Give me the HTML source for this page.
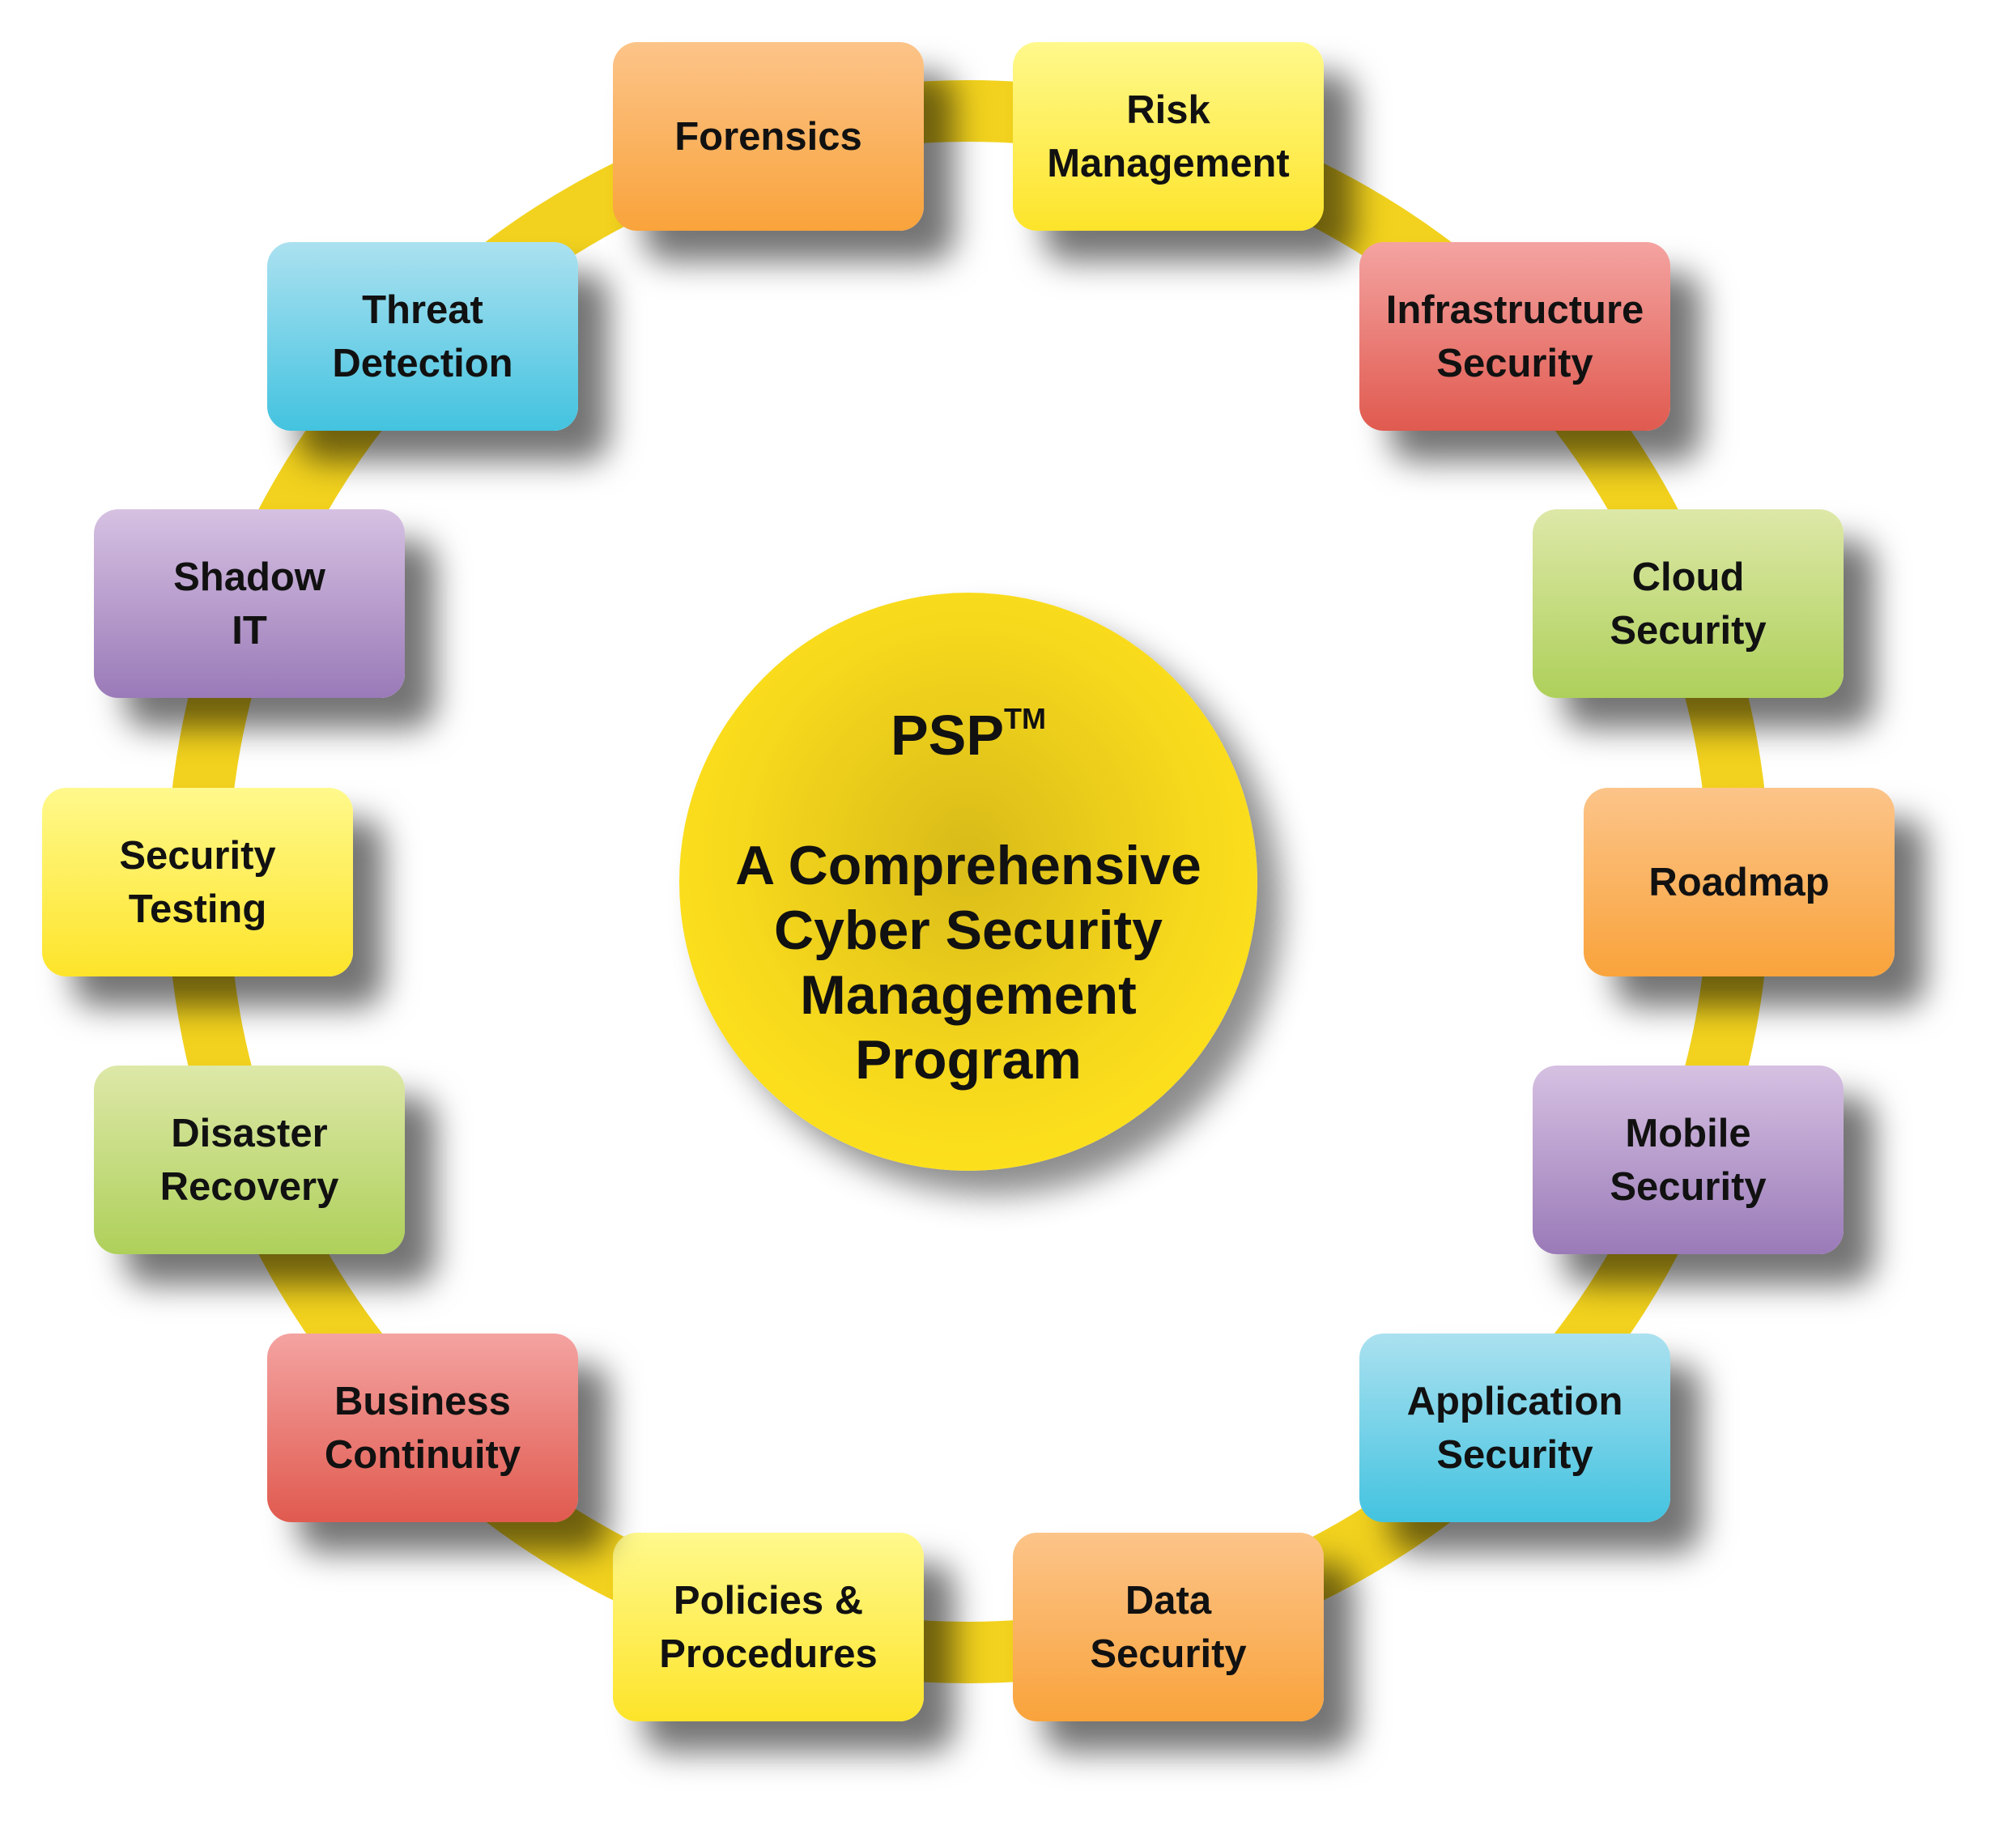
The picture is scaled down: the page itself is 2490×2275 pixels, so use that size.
<!DOCTYPE html>
<html><head><meta charset="utf-8"><style>
html,body{margin:0;padding:0;background:#fff;}
body{width:2490px;height:2275px;position:relative;overflow:hidden;font-family:"Liberation Sans",sans-serif;}
.b{position:absolute;width:384px;height:233px;border-radius:30px;display:flex;align-items:center;justify-content:center;text-align:center;font-weight:bold;font-size:49px;line-height:66px;color:#111;box-shadow:38px 38px 40px rgba(0,0,0,0.55);}
.o{background:linear-gradient(#fcc489,#f9a33b);}
.y{background:linear-gradient(#fff98c,#fde42a);}
.r{background:linear-gradient(#f4a3a1,#e05a4f);}
.g{background:linear-gradient(#dde8a8,#aed05a);}
.p{background:linear-gradient(#d6c1e2,#9a7ab8);}
.c{background:linear-gradient(#abe1f0,#43c3e0);}
#ring{position:absolute;left:0;top:0;}
#ctr{position:absolute;left:839px;top:732px;width:714px;height:714px;border-radius:50%;background:radial-gradient(circle at 50% 45%,#d9bb1a 0%,#f7d91c 55%,#fde01c 75%);box-shadow:30px 30px 40px rgba(0,0,0,0.45);text-align:center;font-weight:bold;color:#111;}
</style></head><body>
<svg id="ring" width="2490" height="2275"><circle cx="1196" cy="1089" r="952" fill="none" stroke="#f2d21e" stroke-width="76"/></svg>
<div id="ctr"><div style="position:absolute;left:0;right:0;top:136px;font-size:70px;line-height:80px">PSP<sup style="font-size:36px;vertical-align:top;line-height:40px">TM</sup></div><div style="position:absolute;left:0;right:0;top:297px;font-size:68px;line-height:80px">A Comprehensive<br>Cyber Security<br>Management<br>Program</div></div>
<div class="b o" style="left:757px;top:52px">Forensics</div>
<div class="b y" style="left:1251px;top:52px">Risk<br>Management</div>
<div class="b r" style="left:1679px;top:299px">Infrastructure<br>Security</div>
<div class="b g" style="left:1893px;top:629px">Cloud<br>Security</div>
<div class="b o" style="left:1956px;top:973px">Roadmap</div>
<div class="b p" style="left:1893px;top:1316px">Mobile<br>Security</div>
<div class="b c" style="left:1679px;top:1647px">Application<br>Security</div>
<div class="b o" style="left:1251px;top:1893px">Data<br>Security</div>
<div class="b y" style="left:757px;top:1893px">Policies &amp;<br>Procedures</div>
<div class="b r" style="left:330px;top:1647px">Business<br>Continuity</div>
<div class="b g" style="left:116px;top:1316px">Disaster<br>Recovery</div>
<div class="b y" style="left:52px;top:973px">Security<br>Testing</div>
<div class="b p" style="left:116px;top:629px">Shadow<br>IT</div>
<div class="b c" style="left:330px;top:299px">Threat<br>Detection</div>
</body></html>
